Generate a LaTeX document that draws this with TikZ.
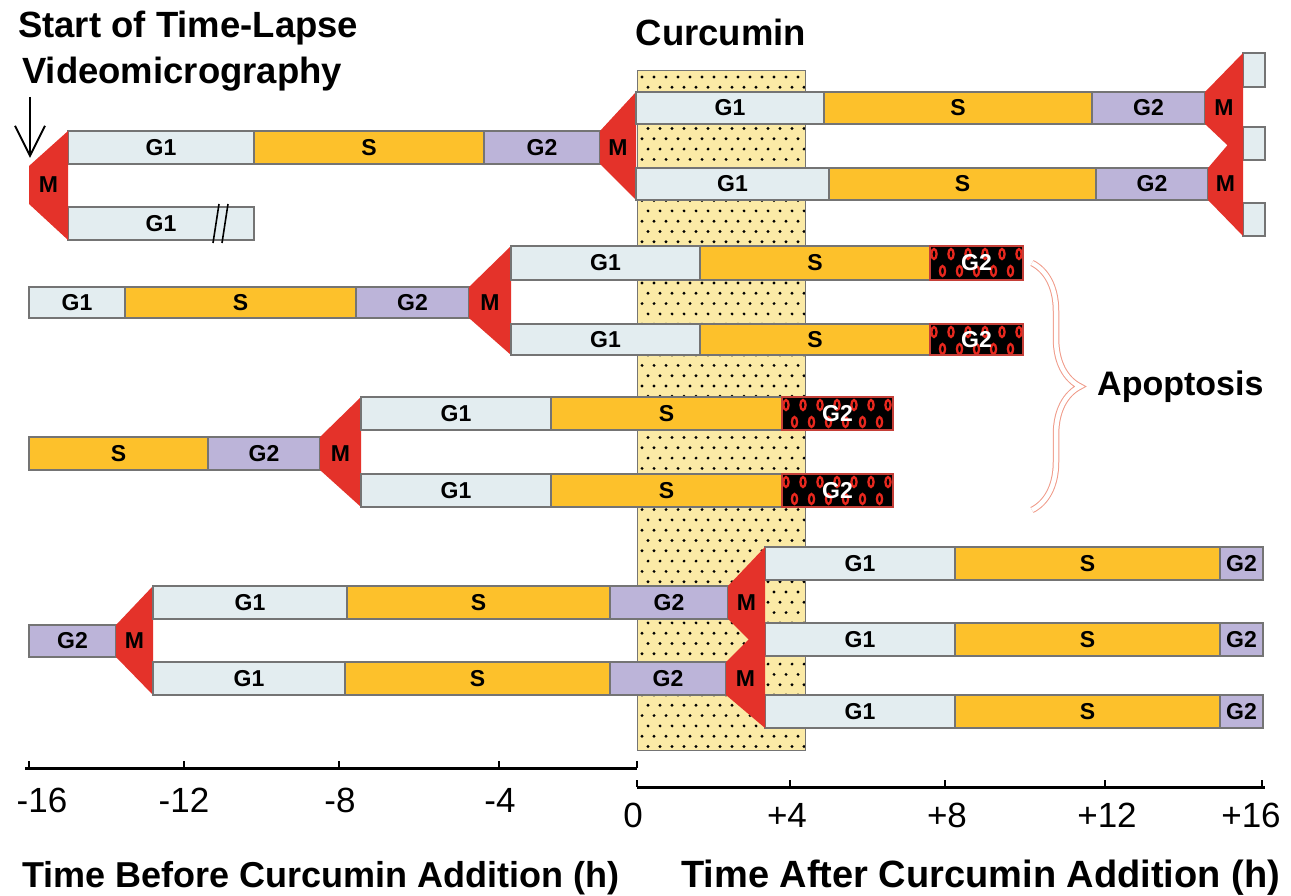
\documentclass[tikz,border=0pt]{standalone}
\usepackage{fontspec}
\setmainfont{Liberation Sans}
\usetikzlibrary{arrows.meta,decorations.pathreplacing}
\definecolor{gone}{HTML}{E3EDF0}
\definecolor{sph}{HTML}{FDC12B}
\definecolor{gtwo}{HTML}{BCB4D9}
\definecolor{mred}{HTML}{E4322A}
\definecolor{curc}{HTML}{FBEAA6}
\definecolor{edgec}{HTML}{747474}
\definecolor{brc}{HTML}{F09A88}
\definecolor{aporing}{HTML}{E8281E}
\tikzset{
  lbl/.style={font=\fontsize{23}{23}\selectfont\bfseries, inner sep=0pt},
  gonebar/.style={fill=gone, draw=edgec, line width=1.1pt},
  sbar/.style={fill=sph, draw=edgec, line width=1.1pt},
  gtwobar/.style={fill=gtwo, draw=edgec, line width=1.1pt},
  head/.style={font=\fontsize{36.5}{36.5}\selectfont\bfseries, inner sep=0pt},
  ticklbl/.style={font=\fontsize{35}{35}\selectfont, inner sep=0pt},
  axisline/.style={line width=3pt},
  tickmark/.style={line width=1.2pt},
}
% name, x1, x2, y1, y2, style, label
\newcommand\phase[7]{%
  \draw[#6] (#2,#4) rectangle (#3,#5);
  \node[lbl] (#1) at ({(#2+#3)/2},{(#4+#5)/2}) {#7};}
% name, xl, xr, left top, left bottom, right top, right bottom
\newcommand\mito[7]{%
  \fill[mred] (#2,#4) -- (#3,#6) -- (#3,#7) -- (#2,#5) -- cycle;
  \node[lbl] (#1) at ({(#2+#3)/2},{(#4+#5)/2}) {M};}
% apoptotic G2: name, x1, x2, y1, y2
\newcommand\apo[5]{%
  \begin{scope}
    \clip (#2,#4) rectangle (#3,#5);
    \fill[black] (#2,#4) rectangle (#3,#5);
    \foreach \k in {0,...,7}{
      \draw[aporing, line width=2.3pt] ({#2+4+\k*17},{#4+8}) ellipse (2.6 and 5);
      \draw[aporing, line width=2.3pt] ({#2+12.5+\k*17},{#4+25}) ellipse (2.6 and 5);
    }
  \end{scope}
  \draw[aporing!70!edgec, line width=1.1pt] (#2,#4) rectangle (#3,#5);
  \node[lbl, text=white] (#1) at ({(#2+#3)/2},{(#4+#5)/2}) {G2};}
\begin{document}
\begin{tikzpicture}[x=1pt,y=-1pt]
\useasboundingbox (0,0) rectangle (1291,896);
\fill[white] (0,0) rectangle (1291,896);

% curcumin box
\fill[curc] (637,71) rectangle (805,750);
\begin{scope}
  \clip (637,71) rectangle (805,750);
  \foreach \r in {0,...,66}{
    \foreach \c in {0,...,14}{
      \fill ({642+\c*12+mod(\r,2)*6},{77+\r*10.3}) circle (1.6);
    }
  }
\end{scope}
\draw[edgec, line width=1pt] (637,71) rectangle (805,750);
\node[head, anchor=base] (curcumin) at (721,46) {Curcumin};

% titles
\node[head, anchor=base west] (title1) at (18,38) {Start of Time-Lapse};
\node[head, anchor=base west] (title2) at (22,84) {Videomicrography};
\coordinate (arrtop) at (30,97);
\coordinate (arrtip) at (30,158);
\draw[line width=2pt, -{Straight Barb[length=30pt,width=30pt,line width=2pt]}] (arrtop) -- (arrtip);

% ---- cell 1 ----
\phase{c1a}{68}{254}{131}{164}{gonebar}{G1}
\phase{c1b}{254}{484}{131}{164}{sbar}{S}
\phase{c1c}{484}{600}{131}{164}{gtwobar}{G2}
\phase{c1d}{68}{254}{207}{240}{gonebar}{G1}
\draw[line width=1.6pt] (213,243) -- (219,204);
\draw[line width=1.6pt] (222,243) -- (228,204);
\mito{m0}{29}{68}{166}{204}{131}{240}
\mito{m1}{600}{636}{131}{164}{92}{200}
% daughters of cell 1
\phase{d1a}{636}{824}{92}{124}{gonebar}{G1}
\phase{d1b}{824}{1092}{92}{124}{sbar}{S}
\phase{d1c}{1092}{1205}{92}{124}{gtwobar}{G2}
\phase{d2a}{636}{829}{168}{200}{gonebar}{G1}
\phase{d2b}{829}{1096}{168}{200}{sbar}{S}
\phase{d2c}{1096}{1208}{168}{200}{gtwobar}{G2}
\draw[gonebar] (1243,53) rectangle (1265,87);
\draw[gonebar] (1243,127) rectangle (1265,160);
\draw[gonebar] (1243,203) rectangle (1265,236);
\mito{m2}{1205}{1243}{92}{124}{53}{160}
\mito{m3}{1208}{1243}{168}{200}{127}{236}

% ---- cell 2 ----
\phase{c2a}{29}{125}{287}{318}{gonebar}{G1}
\phase{c2b}{125}{356}{287}{318}{sbar}{S}
\phase{c2c}{356}{469}{287}{318}{gtwobar}{G2}
\mito{m4}{469}{511}{287}{318}{246}{355}
\phase{e1a}{511}{700}{246}{280}{gonebar}{G1}
\phase{e1b}{700}{930}{246}{280}{sbar}{S}
\apo{e1c}{930}{1023}{246}{280}
\phase{e2a}{511}{700}{324}{355}{gonebar}{G1}
\phase{e2b}{700}{930}{324}{355}{sbar}{S}
\apo{e2c}{930}{1023}{324}{355}

% ---- cell 3 ----
\phase{c3b}{29}{208}{437}{470}{sbar}{S}
\phase{c3c}{208}{320}{437}{470}{gtwobar}{G2}
\mito{m5}{320}{361}{437}{470}{397}{507}
\phase{f1a}{361}{551}{397}{430}{gonebar}{G1}
\phase{f1b}{551}{782}{397}{430}{sbar}{S}
\apo{f1c}{782}{893}{397}{430}
\phase{f2a}{361}{551}{474}{507}{gonebar}{G1}
\phase{f2b}{551}{782}{474}{507}{sbar}{S}
\apo{f2c}{782}{893}{474}{507}

% ---- cell 4 ----
\phase{c4c}{29}{116}{625}{657}{gtwobar}{G2}
\mito{m6}{116}{153}{625}{657}{586}{695}
\phase{g1a}{153}{347}{586}{619}{gonebar}{G1}
\phase{g1b}{347}{610}{586}{619}{sbar}{S}
\phase{g1c}{610}{728}{586}{619}{gtwobar}{G2}
\phase{g2a}{153}{345}{662}{695}{gonebar}{G1}
\phase{g2b}{345}{610}{662}{695}{sbar}{S}
\phase{g2c}{610}{726}{662}{695}{gtwobar}{G2}
\phase{h1a}{765}{955}{547}{580}{gonebar}{G1}
\phase{h1b}{955}{1220}{547}{580}{sbar}{S}
\phase{h1c}{1220}{1263}{547}{580}{gtwobar}{G2}
\phase{h2a}{765}{955}{623}{656}{gonebar}{G1}
\phase{h2b}{955}{1220}{623}{656}{sbar}{S}
\phase{h2c}{1220}{1263}{623}{656}{gtwobar}{G2}
\phase{h3a}{765}{955}{695}{728}{gonebar}{G1}
\phase{h3b}{955}{1220}{695}{728}{sbar}{S}
\phase{h3c}{1220}{1263}{695}{728}{gtwobar}{G2}
\mito{m7}{728}{765}{586}{619}{547}{656}
\mito{m8}{726}{765}{662}{695}{623}{728}

% apoptosis brace
\coordinate (brtop) at (1032,263);
\coordinate (brbot) at (1032,510);
\draw[brc, line width=6.5pt, decorate, decoration={brace, amplitude=48pt}] (brtop) -- (brbot);
\draw[white, line width=4.5pt, decorate, decoration={brace, amplitude=48pt}] (brtop) -- (brbot);
\node[font=\fontsize{34}{34}\selectfont\bfseries, inner sep=0pt, anchor=base west] (apop) at (1097,395) {Apoptosis};

% axes
\draw[axisline] (25,768) -- (637,768);
\foreach \x in {29,184,339,499,637}{
  \draw[tickmark] (\x,768) -- (\x,761);
}
\node[ticklbl] (lm16) at (42,800) {-16};
\node[ticklbl] (lm12) at (184,800) {-12};
\node[ticklbl] (lm8) at (340,800) {-8};
\node[ticklbl] (lm4) at (500,800) {-4};
\draw[axisline] (637,787) -- (1265,787);
\foreach \x in {637,790,945,1105,1262}{
  \draw[tickmark] (\x,787) -- (\x,780);
}
\node[ticklbl] (r0) at (633,815) {0};
\node[ticklbl] (r4) at (787,815) {+4};
\node[ticklbl] (r8) at (947,815) {+8};
\node[ticklbl] (r12) at (1107,815) {+12};
\node[ticklbl] (r16) at (1251,815) {+16};
\node[font=\fontsize{36}{36}\selectfont\bfseries, inner sep=0pt, anchor=base west] (xl1) at (22,887) {Time Before Curcumin Addition (h)};
\node[font=\fontsize{38}{38}\selectfont\bfseries, inner sep=0pt, anchor=base west] (xl2) at (681,887) {Time After Curcumin Addition (h)};
\end{tikzpicture}
\end{document}
